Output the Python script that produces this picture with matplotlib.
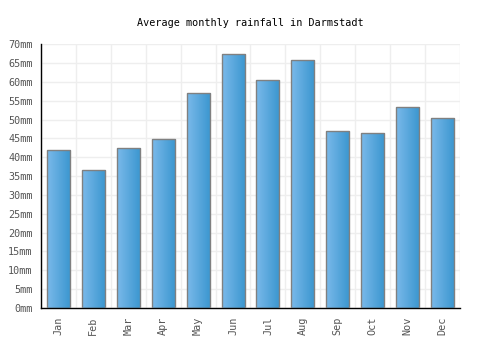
import matplotlib
matplotlib.use("Agg")
import matplotlib.pyplot as plt
import numpy as np
from matplotlib.colors import LinearSegmentedColormap

months = ['Jan', 'Feb', 'Mar', 'Apr', 'May', 'Jun', 'Jul', 'Aug', 'Sep', 'Oct', 'Nov', 'Dec']
rainfall = [41.9, 36.6, 42.4, 44.8, 57.0, 67.3, 60.6, 65.7, 46.9, 46.4, 53.3, 50.4]
y_ticks = list(range(0, 75, 5))
y_labels = [f'{v}mm' for v in y_ticks]

plt.rcParams['font.family'] = ['DejaVu Sans Mono']

fig = plt.figure(figsize=(5, 3.5), dpi=100)
ax = fig.add_axes([0.082, 0.12, 0.838, 0.754])

x = np.arange(len(months))
bars = ax.bar(x, rainfall, width=0.66, facecolor='none', edgecolor='#808080', linewidth=1.0, zorder=3)

# gradient fill inside each bar
cmap = LinearSegmentedColormap.from_list('rain', ['#7ab9ea', '#3a96cf'])
grad = np.linspace(0, 1, 64).reshape(1, -1)
for b in bars:
    x0, w, h = b.get_x(), b.get_width(), b.get_height()
    im = ax.imshow(grad, cmap=cmap, aspect='auto', extent=(x0, x0 + w, 0, h), zorder=2)
    im.set_clip_path(b)

ax.set_xlim(-0.5, len(months) - 0.5)
ax.set_ylim(0, 70)
ax.set_xticks(x)
ax.set_xticklabels(months, rotation=90)
ax.set_xticks(np.arange(-0.5, len(months), 1), minor=True)
ax.set_yticks(y_ticks)
ax.set_yticklabels(y_labels)

ax.grid(True, which='minor', axis='x', color='#eeeeee', linewidth=1, zorder=0)
ax.grid(True, which='major', axis='y', color='#eeeeee', linewidth=1, zorder=0)
ax.tick_params(axis='both', which='both', length=0, labelsize=7.3, colors='#555555', pad=6)

for s in ['top', 'right']:
    ax.spines[s].set_visible(False)
for s in ['left', 'bottom']:
    ax.spines[s].set_color('black')
    ax.spines[s].set_linewidth(1)

ax.set_title('Average monthly rainfall in Darmstadt', fontsize=7.3, color='black', pad=13)

fig.savefig('out.png', dpi=100)
